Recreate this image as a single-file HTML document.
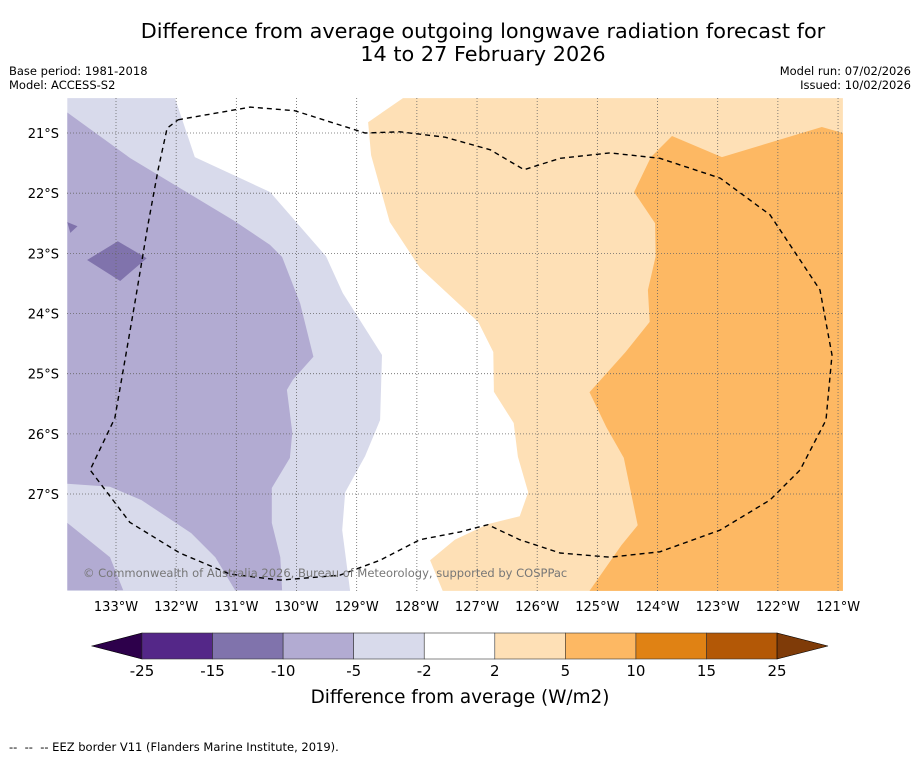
<!DOCTYPE html>
<html><head><meta charset="utf-8"><style>
html,body{margin:0;padding:0;background:#fff;}
svg{display:block;font-family:"DejaVu Sans","Liberation Sans",sans-serif;}
</style></head><body>
<svg id="c" width="919" height="758" xmlns="http://www.w3.org/2000/svg">
<text x="483" y="38" font-size="20.8" text-anchor="middle">Difference from average outgoing longwave radiation forecast for</text>
<text x="483" y="61" font-size="20.8" text-anchor="middle">14 to 27 February 2026</text>
<text x="9" y="75" font-size="11.5">Base period: 1981-2018</text>
<text x="9" y="89" font-size="11.5">Model: ACCESS-S2</text>
<text x="911" y="75" font-size="11.5" text-anchor="end">Model run: 07/02/2026</text>
<text x="911" y="89" font-size="11.5" text-anchor="end">Issued: 10/02/2026</text>
<defs><clipPath id="mc"><rect x="67" y="98" width="776" height="493"/></clipPath></defs>
<g id="map" clip-path="url(#mc)"></g>
<g id="axes"></g>
<g id="cbar"></g>
<text x="460" y="703" font-size="18.4" text-anchor="middle">Difference from average (W/m2)</text>
<text x="9" y="751" font-size="11.5">--&#160; --&#160; -- EEZ border V11 (Flanders Marine Institute, 2019).</text>
</svg>
<script>
const lonTicks=[-133,-132,-131,-130,-129,-128,-127,-126,-125,-124,-123,-122,-121];
const latTicks=[-21,-22,-23,-24,-25,-26,-27];
const cbLevels=[-25,-15,-10,-5,-2,2,5,10,15,25];
const cbColors=["#542788","#8073ac","#b2abd2","#d8daeb","#ffffff","#fee0b6","#fdb863","#e08214","#b35806"];
const cbLow="#2d004b", cbHigh="#7f3b08";
const polyLightPurple=[[-133.81,-20.42],[-132.02,-20.42],[-131.69,-21.40],[-130.44,-21.98],[-129.51,-23.05],[-129.23,-23.66],[-128.58,-24.69],[-128.61,-25.77],[-128.86,-26.37],[-129.19,-26.97],[-129.24,-27.60],[-129.11,-28.61],[-133.81,-28.61]];
const polyMidPurple=[[-133.81,-20.66],[-132.76,-21.42],[-131.05,-22.45],[-130.44,-22.86],[-130.24,-23.06],[-129.94,-23.83],[-129.72,-24.72],[-130.06,-25.10],[-130.16,-25.27],[-130.07,-25.98],[-130.11,-26.40],[-130.41,-26.90],[-130.41,-27.48],[-130.27,-28.05],[-130.24,-28.60],[-131.02,-28.60],[-131.35,-28.05],[-131.75,-27.65],[-132.58,-27.10],[-133.10,-26.88],[-133.81,-26.83]];
const polyMidPurple2=[[-133.81,-27.48],[-133.10,-28.05],[-132.88,-28.60],[-133.81,-28.60]];
const polyDarkPurple=[[-133.48,-23.11],[-132.97,-22.80],[-132.49,-23.08],[-132.93,-23.46]];
const polyDarkPurple2=[[-133.81,-22.48],[-133.64,-22.55],[-133.76,-22.66]];
const polyLightOrange=[[-128.23,-20.42],[-128.81,-20.82],[-128.76,-21.37],[-128.45,-22.48],[-127.95,-23.24],[-126.98,-24.14],[-126.73,-24.64],[-126.72,-25.30],[-126.39,-25.82],[-126.32,-26.38],[-126.15,-26.97],[-126.29,-27.37],[-126.82,-27.50],[-127.37,-27.76],[-127.78,-28.10],[-127.57,-28.61],[-120.92,-28.61],[-120.92,-20.42]];
const polyMidOrange=[[-120.92,-21.00],[-121.27,-20.90],[-122.93,-21.40],[-123.76,-21.05],[-124.11,-21.40],[-124.39,-21.98],[-124.04,-22.50],[-124.03,-23.05],[-124.16,-23.61],[-124.13,-24.14],[-124.53,-24.64],[-124.80,-24.94],[-125.13,-25.31],[-124.85,-25.89],[-124.56,-26.40],[-124.33,-27.52],[-124.60,-27.85],[-125.13,-28.61],[-120.92,-28.61]];
const eezLine=[[-131.97,-20.78],[-130.77,-20.57],[-130.03,-20.63],[-128.86,-21.00],[-128.28,-20.98],[-127.53,-21.07],[-126.78,-21.28],[-126.22,-21.61],[-125.62,-21.42],[-124.79,-21.33],[-123.96,-21.42],[-122.96,-21.75],[-122.13,-22.36],[-121.30,-23.61],[-121.10,-24.69],[-121.20,-25.77],[-121.63,-26.60],[-122.13,-27.10],[-122.96,-27.60],[-123.96,-27.96],[-124.79,-28.05],[-125.62,-27.98],[-126.29,-27.76],[-126.82,-27.51],[-127.28,-27.63],[-127.95,-27.76],[-128.61,-28.10],[-129.28,-28.35],[-130.27,-28.43],[-131.11,-28.33],[-131.94,-27.98],[-132.77,-27.47],[-133.43,-26.60],[-133.02,-25.74],[-132.85,-24.77],[-132.68,-23.78],[-132.47,-22.53],[-132.30,-21.61],[-132.15,-20.92],[-131.97,-20.78]];

const NS="http://www.w3.org/2000/svg";
const X=lon=>116+(lon+133)*60.17;
const Y=lat=>133+(-21-lat)*60.17;
function mk(tag,attrs,parent){const e=document.createElementNS(NS,tag);for(const k in attrs)e.setAttribute(k,attrs[k]);parent.appendChild(e);return e;}
const map=document.getElementById('map');
function poly(pts,fill,name){
  const e=mk('polygon',{points:pts.map(p=>X(p[0]).toFixed(1)+','+Y(p[1]).toFixed(1)).join(' '),fill:fill},map);
  
  
}
poly(polyLightPurple,"#d8daeb",'contour-minus5-to-minus2');
poly(polyMidPurple,"#b2abd2",'contour-minus10-to-minus5');
poly(polyMidPurple2,"#b2abd2",'contour-minus10-to-minus5-south');
poly(polyDarkPurple,"#8073ac",'contour-minus15-to-minus10');
poly(polyDarkPurple2,"#8073ac",'contour-minus15-to-minus10-edge');
poly(polyLightOrange,"#fee0b6",'contour-2-to-5');
poly(polyMidOrange,"#fdb863",'contour-5-to-10');
lonTicks.forEach(l=>{const e=mk('line',{x1:X(l),x2:X(l),y1:98,y2:591,stroke:"#666","stroke-width":0.8,"stroke-dasharray":"1,2"},map);

});
latTicks.forEach(l=>{const e=mk('line',{x1:67,x2:843,y1:Y(l),y2:Y(l),stroke:"#666","stroke-width":0.8,"stroke-dasharray":"1,2"},map);

});
const eez=mk('polyline',{points:eezLine.map(p=>X(p[0]).toFixed(1)+','+Y(p[1]).toFixed(1)).join(' '),fill:"none",stroke:"#000","stroke-width":1.4,"stroke-dasharray":"5,4"},map);


const cr=mk('text',{x:83,y:577,"font-size":11.5,fill:"#777"},map);
cr.textContent="© Commonwealth of Australia 2026, Bureau of Meteorology, supported by COSPPac";


const ax=document.getElementById('axes');
lonTicks.forEach(l=>{const t=mk('text',{x:X(l),y:611,"font-size":13,"text-anchor":"middle"},ax);t.textContent=(-l)+"°W";

});
latTicks.forEach(l=>{const t=mk('text',{x:59,y:Y(l)+5,"font-size":13,"text-anchor":"end"},ax);t.textContent=(-l)+"°S";

});
const cb=document.getElementById('cbar');
const cx0=142,cw=70.56,cy=633,ch=26;
const lo=mk('polygon',{points:`${cx0},${cy} ${cx0},${cy+ch} 92,${cy+ch/2}`,fill:cbLow,stroke:"#000","stroke-width":0.6},cb);


cbColors.forEach((c,i)=>{const r=mk('rect',{x:cx0+i*cw,y:cy,width:cw,height:ch,fill:c,stroke:"#333","stroke-width":0.6},cb);

});
const xe=cx0+cbColors.length*cw;
const hi=mk('polygon',{points:`${xe},${cy} ${xe},${cy+ch} 828,${cy+ch/2}`,fill:cbHigh,stroke:"#000","stroke-width":0.6},cb);


cbLevels.forEach((v,i)=>{const t=mk('text',{x:cx0+i*cw,y:676,"font-size":15,"text-anchor":"middle"},cb);t.textContent=v;

});
</script>
</body></html>
